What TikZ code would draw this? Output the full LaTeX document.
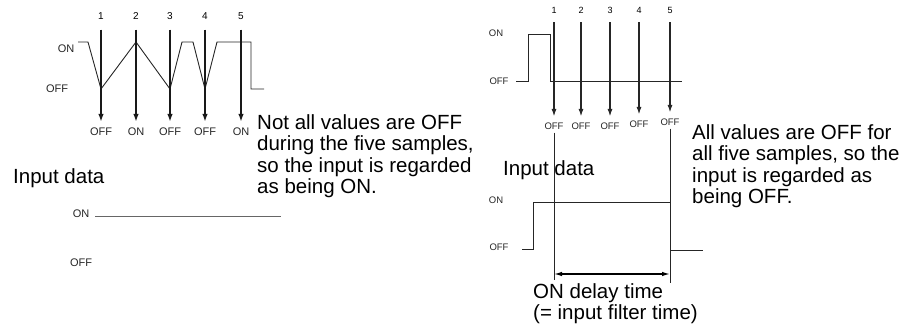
\documentclass[tikz,border=0pt]{standalone}
\usepackage{fontspec}
\setmainfont{Liberation Sans}
\usetikzlibrary{arrows.meta}
\definecolor{wavegray}{gray}{0.15}
\definecolor{linegray}{gray}{0.4}

\begin{document}
\begin{tikzpicture}[
  x=1pt, y=-1pt,
  note/.style={font=\fontsize{20.5}{21.5}\selectfont, align=left, inner sep=0pt},
  lvl/.style={font=\fontsize{11}{13}\selectfont, text=black!85, inner sep=0pt},
  slvl/.style={font=\fontsize{9.5}{11}\selectfont, text=black!85, inner sep=0pt},
  num/.style={font=\fontsize{10}{12}\selectfont, inner sep=0pt},
  snum/.style={font=\fontsize{9}{11}\selectfont, inner sep=0pt},
  arr/.style={-{Latex[length=8pt,width=5.5pt]}, line width=1.6pt, draw=black!90},
  sarr/.style={-{Latex[length=7.5pt,width=5pt]}, line width=1.2pt, draw=black!85},
  wave/.style={line width=0.9pt, draw=wavegray},
  guide/.style={line width=1pt, draw=black!85},
  dim/.style={{Latex[length=8pt,width=4.5pt]}-{Latex[length=8pt,width=4.5pt]}, line width=1.3pt}
]
\useasboundingbox (0,0) rectangle (916,329);

% left: sampling of a bouncing input
\node[num] (n1) at (101,16) {1};
\node[num] (n2) at (136,16) {2};
\node[num] (n3) at (170,16) {3};
\node[num] (n4) at (205,16) {4};
\node[num] (n5) at (241,16) {5};
\node[lvl] (b1) at (101,132) {OFF};
\node[lvl] (b2) at (136,132) {ON};
\node[lvl] (b3) at (170,132) {OFF};
\node[lvl] (b4) at (205,132) {OFF};
\node[lvl] (b5) at (241,132) {ON};
\node[lvl] (lon) at (66,49) {ON};
\node[lvl] (loff) at (57,89) {OFF};
\draw[wave] (78,42) -- (88,42) -- (101,89) -- (136,42) -- (170,89) -- (182,42)
  -- (193,42) -- (205,89) -- (217,42) -- (251,42) -- (251,89) -- (264,89);
\draw[arr, shorten <=10pt, shorten >=6pt] (n1) -- (b1);
\draw[arr, shorten <=10pt, shorten >=6pt] (n2) -- (b2);
\draw[arr, shorten <=10pt, shorten >=6pt] (n3) -- (b3);
\draw[arr, shorten <=10pt, shorten >=6pt] (n4) -- (b4);
\draw[arr, shorten <=10pt, shorten >=6pt] (n5) -- (b5);
\node[note, anchor=north west] (lnote) at (257,114)
  {Not all values are OFF\\during the five samples,\\so the input is regarded\\as being ON.};

% left: resulting input data
\node[note, anchor=base west] (lin) at (13,183) {Input data};
\node[lvl] (lion) at (81,214) {ON};
\node[lvl] (lioff) at (81,263) {OFF};
\draw[line width=1pt, draw=linegray] (95,216) -- (281,216);

% right: sampling of a short pulse
\node[snum] (rn1) at (554,10) {1};
\node[snum] (rn2) at (581,10) {2};
\node[snum] (rn3) at (610,10) {3};
\node[snum] (rn4) at (639,10) {4};
\node[snum] (rn5) at (670,10) {5};
\node[slvl] (rb1) at (554,126) {OFF};
\node[slvl] (rb2) at (581,126) {OFF};
\node[slvl] (rb3) at (610,126) {OFF};
\node[slvl] (rb4) at (639,124) {OFF};
\node[slvl] (rb5) at (670,122) {OFF};
\node[slvl] (ron) at (496,33) {ON};
\node[slvl] (roff) at (499,81) {OFF};
\draw[wave] (516,81) -- (528,81) -- (528,34) -- (550,34) -- (550,81) -- (682,81);
\draw[sarr, shorten <=9pt, shorten >=6pt] (rn1) -- (rb1);
\draw[sarr, shorten <=9pt, shorten >=6pt] (rn2) -- (rb2);
\draw[sarr, shorten <=9pt, shorten >=6pt] (rn3) -- (rb3);
\draw[sarr, shorten <=9pt, shorten >=6pt] (rn4) -- (rb4);
\draw[sarr, shorten <=9pt, shorten >=6pt] (rn5) -- (rb5);
\node[note, anchor=north west] (rnote) at (692,124)
  {All values are OFF for\\all five samples, so the\\input is regarded as\\being OFF.};

% right: resulting input data and delay
\node[note, anchor=base west] (rin) at (503,175) {Input data};
\node[slvl] (rion) at (496,200) {ON};
\node[slvl] (rioff) at (499,247) {OFF};
\draw[wave] (522,249) -- (533,249) -- (533,202) -- (670,202) -- (670,250) -- (703,250);
\coordinate (e1) at (554,280);
\coordinate (e5) at (670,283);
\coordinate (dl) at (554,274);
\coordinate (dr) at (670,274);
\draw[guide, shorten <=3pt] (rb1) -- (e1);
\draw[guide, shorten <=3pt] (rb5) -- (e5);
\draw[dim] (dl) -- (dr);
\node[note, anchor=north west] (cap) at (533,283)
  {ON delay time\\(= input filter time)};
\end{tikzpicture}
\end{document}
